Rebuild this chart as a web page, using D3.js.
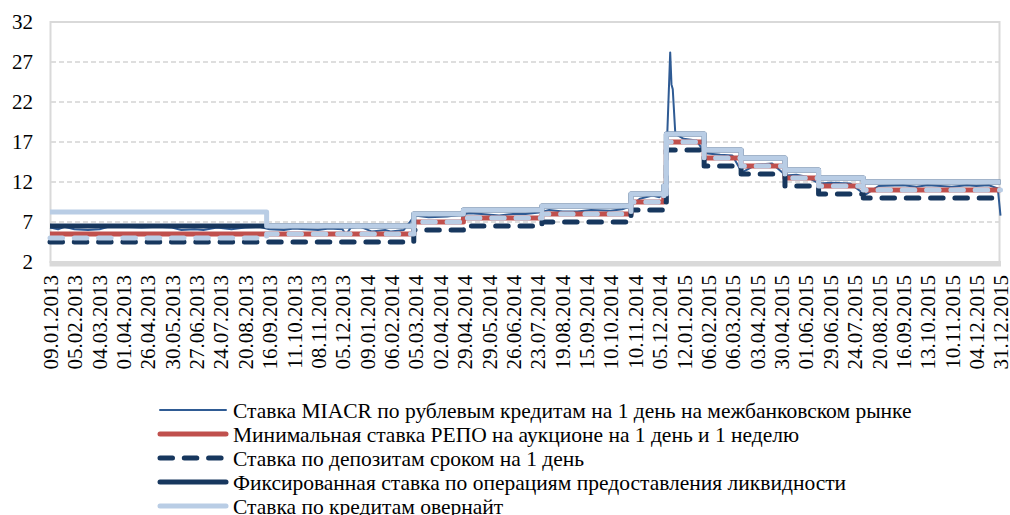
<!DOCTYPE html>
<html>
<head>
<meta charset="utf-8">
<script src="https://cdn.jsdelivr.net/npm/d3@7"></script>
<style>
  html, body { margin: 0; padding: 0; background: #fff; }
  svg { display: block; }
  text { font-family: "Liberation Serif", "Times New Roman", serif; fill: #000; }
</style>
</head>
<body>
<svg id="chart" width="1010" height="515"></svg>
<script>
// tick labels of the category axis
const tickLabels = [
  "09.01.2013", "05.02.2013", "04.03.2013", "01.04.2013", "26.04.2013", "30.05.2013",
  "27.06.2013", "24.07.2013", "20.08.2013", "16.09.2013", "11.10.2013", "08.11.2013",
  "05.12.2013", "09.01.2014", "06.02.2014", "05.03.2014", "02.04.2014", "29.04.2014",
  "29.05.2014", "26.06.2014", "23.07.2014", "19.08.2014", "15.09.2014", "10.10.2014",
  "10.11.2014", "05.12.2014", "12.01.2015", "06.02.2015", "06.03.2015", "03.04.2015",
  "30.04.2015", "01.06.2015", "29.06.2015", "24.07.2015", "20.08.2015", "16.09.2015",
  "13.10.2015", "10.11.2015", "04.12.2015", "31.12.2015"
];
const yTicks = [2, 7, 12, 17, 22, 27, 32];

// dates when the policy rates changed (step series)
const stepDates = [
  "09.01.2013", "13.09.2013", "03.03.2014", "28.04.2014", "28.07.2014", "05.11.2014",
  "12.12.2014", "16.12.2014", "02.02.2015", "16.03.2015", "05.05.2015", "16.06.2015", "03.08.2015"
];
const endDate = "31.12.2015";
const overnight  = [8.25, 6.5, 8.0, 8.5, 9.0, 10.5, 11.5, 18.0, 16.0, 15.0, 13.5, 12.5, 12.0];
const repoMin    = [5.5, 5.5, 7.0, 7.5, 8.0, 9.5, 10.5, 17.0, 15.0, 14.0, 12.5, 11.5, 11.0];
const deposit1d  = [4.5, 4.5, 6.0, 6.5, 7.0, 8.5, 9.5, 16.0, 14.0, 13.0, 11.5, 10.5, 10.0];
const fixedLiq   = [6.5, 6.5, 8.0, 8.5, 9.0, 10.5, 11.5, 18.0, 16.0, 15.0, 13.5, 12.5, 12.0];
const depoAuction = [5.0, 5.5, 7.0, 7.5, 8.0, 9.5, 10.5, 17.0, 15.0, 14.0, 12.5, 11.5, 11.0];

// MIACR overnight
const miacrDates = [
  "09.01.2013", "18.01.2013", "25.01.2013", "05.02.2013", "20.02.2013", "05.03.2013", "15.03.2013",
  "01.04.2013", "20.04.2013", "10.05.2013", "30.05.2013", "10.06.2013", "25.06.2013", "05.07.2013",
  "20.07.2013", "05.08.2013", "20.08.2013", "05.09.2013", "16.09.2013", "01.10.2013", "11.10.2013",
  "25.10.2013", "08.11.2013", "20.11.2013", "05.12.2013", "10.12.2013", "17.12.2013", "31.12.2013",
  "15.01.2014", "30.01.2014", "06.02.2014", "20.02.2014", "04.03.2014", "20.03.2014", "10.04.2014",
  "25.04.2014", "05.05.2014", "20.05.2014", "10.06.2014", "26.06.2014", "10.07.2014", "25.07.2014",
  "05.08.2014", "20.08.2014", "05.09.2014", "20.09.2014", "10.10.2014", "25.10.2014", "05.11.2014",
  "15.11.2014", "28.11.2014", "05.12.2014", "12.12.2014", "15.12.2014", "17.12.2014", "22.12.2014",
  "24.12.2014", "26.12.2014", "30.12.2014", "12.01.2015", "25.01.2015", "03.02.2015", "20.02.2015",
  "06.03.2015", "17.03.2015", "03.04.2015", "20.04.2015", "06.05.2015", "20.05.2015", "01.06.2015",
  "17.06.2015", "01.07.2015", "20.07.2015", "05.08.2015", "20.08.2015", "16.09.2015", "01.10.2015",
  "13.10.2015", "28.10.2015", "10.11.2015", "25.11.2015", "04.12.2015", "18.12.2015", "28.12.2015",
  "31.12.2015"
];
const miacr = [
  6.3, 6.1, 6.4, 6.1, 6.0, 6.1, 6.4,
  6.4, 6.3, 6.4, 6.3, 6.0, 6.1, 6.0,
  6.3, 6.1, 6.3, 6.4, 6.1, 6.0, 6.2,
  6.1, 6.0, 6.2, 6.1, 5.4, 6.3, 6.4,
  5.8, 6.0, 5.8, 6.0, 7.8, 7.6, 7.7,
  7.9, 8.1, 8.0, 7.8, 8.0, 8.0, 8.2,
  8.5, 8.3, 8.3, 8.5, 8.4, 8.6, 9.0,
  9.9, 10.3, 10.1, 10.6, 11.2, 17.0, 28.2,
  24.2, 23.6, 18.0, 17.4, 17.2, 15.6, 15.4,
  15.3, 13.2, 14.2, 14.3, 12.8, 12.9, 12.7,
  11.8, 11.9, 11.8, 10.4, 11.5, 11.6, 11.4,
  11.6, 11.5, 11.4, 11.6, 11.5, 11.6, 11.2,
  7.8
];

const parse = d3.timeParse("%d.%m.%Y");
const svg = d3.select("#chart");

const plotLeft = 50, plotRight = 1000.5, plotTop = 22, plotBottom = 262;

// category axis: every labelled date sits at an even step
const labelDates = tickLabels.map(parse);
const x = d3.scaleTime()
    .domain(labelDates)
    .range(labelDates.map((d, i) => plotLeft + i * (plotRight - plotLeft) / (labelDates.length - 1)));
const y = d3.scaleLinear().domain([2, 32]).range([plotBottom, plotTop]);

// gridlines
svg.append("g")
    .selectAll("line")
    .data(yTicks.filter(v => v > 2 && v < 32))
    .join("line")
    .attr("x1", plotLeft + 1).attr("x2", plotRight - 1)
    .attr("y1", d => y(d)).attr("y2", d => y(d))
    .attr("stroke", "#d4d4d4")
    .attr("stroke-width", 1.5)
    .attr("stroke-dasharray", "5,3");

// frame
svg.append("rect")
    .attr("x", plotLeft + 0.5).attr("y", plotTop)
    .attr("width", plotRight - plotLeft - 1.5).attr("height", plotBottom - plotTop)
    .attr("fill", "none")
    .attr("stroke", "#d9d9d9")
    .attr("stroke-width", 2);
svg.append("rect")
    .attr("x", plotLeft - 0.5).attr("y", plotBottom - 1)
    .attr("width", plotRight - plotLeft + 1).attr("height", 5.5)
    .attr("fill", "#d9d9d9");

// axes
const yAxis = svg.append("g")
    .attr("transform", `translate(${plotLeft},0)`)
    .call(d3.axisLeft(y).tickValues(yTicks).tickSize(0).tickPadding(17).tickFormat(d3.format("d")));
yAxis.select(".domain").remove();
yAxis.selectAll("text")
    .attr("font-size", 21)
    .attr("font-family", "Liberation Serif")
    .attr("fill", "#000");

const xAxis = svg.append("g")
    .attr("transform", "translate(0,275)")
    .call(d3.axisBottom(x).tickValues(labelDates).tickSize(0).tickFormat(d3.timeFormat("%d.%m.%Y")));
xAxis.select(".domain").remove();
xAxis.selectAll("text")
    .attr("font-size", 21)
    .attr("font-family", "Liberation Serif")
    .attr("fill", "#000")
    .attr("text-anchor", "end")
    .attr("x", 0)
    .attr("y", 0)
    .attr("dy", "0.35em")
    .attr("transform", "rotate(-90)");

// series
function stepRows(values) {
  const rows = stepDates.map((d, i) => ({date: parse(d), value: values[i]}));
  rows.push({date: parse(endDate), value: values[values.length - 1]});
  return rows;
}
const stepLine = d3.line()
    .x(d => x(d.date))
    .y(d => y(d.value))
    .curve(d3.curveStepAfter);
const plainLine = d3.line()
    .x(d => x(d.date))
    .y(d => y(d.value));

const miacrRows = miacrDates.map((d, i) => ({date: parse(d), value: miacr[i]}));

const colMiacr = "#2f5b94", colRed = "#c0504d", colNavy = "#17375e", colLight = "#b9cde5";
const dash = "12.5,11.8";

const layers = [
  {rows: miacrRows, line: plainLine, color: colMiacr, width: 2, dash: null},
  {rows: stepRows(repoMin), line: stepLine, color: colRed, width: 5, dash: null},
  {rows: stepRows(deposit1d), line: stepLine, color: colNavy, width: 5, dash: dash},
  {rows: stepRows(fixedLiq), line: stepLine, color: colNavy, width: 5, dash: null},
  {rows: stepRows(overnight), line: stepLine, color: colLight, width: 5, dash: null},
  {rows: stepRows(depoAuction), line: stepLine, color: colLight, width: 5, dash: dash}
];

svg.append("g")
    .selectAll("path")
    .data(layers)
    .join("path")
    .attr("d", d => d.line(d.rows))
    .attr("fill", "none")
    .attr("stroke", d => d.color)
    .attr("stroke-width", d => d.width)
    .attr("stroke-linejoin", "round")
    .attr("stroke-linecap", d => d.dash ? "round" : "butt")
    .attr("stroke-dasharray", d => d.dash);

// legend
const legendItems = [
  {label: "Ставка MIACR по рублевым кредитам на 1 день на межбанковском рынке", color: colMiacr, width: 2, dash: null},
  {label: "Минимальная ставка РЕПО на аукционе на 1 день и 1 неделю", color: colRed, width: 5, dash: null},
  {label: "Ставка по депозитам сроком на 1 день", color: colNavy, width: 5, dash: dash},
  {label: "Фиксированная ставка по операциям предоставления ликвидности", color: colNavy, width: 5, dash: null},
  {label: "Ставка по кредитам овернайт", color: colLight, width: 5, dash: null}
];

const legend = svg.append("g")
    .selectAll("g")
    .data(legendItems)
    .join("g")
    .attr("transform", (d, i) => `translate(0,${410 + i * 24})`);

legend.append("line")
    .attr("x1", 160).attr("x2", 226)
    .attr("stroke", d => d.color)
    .attr("stroke-width", d => d.width)
    .attr("stroke-linecap", "round")
    .attr("stroke-dasharray", d => d.dash);

legend.append("text")
    .attr("x", 233)
    .attr("dy", "0.35em")
    .attr("font-size", 21.5)
    .text(d => d.label);
</script>
</body>
</html>
